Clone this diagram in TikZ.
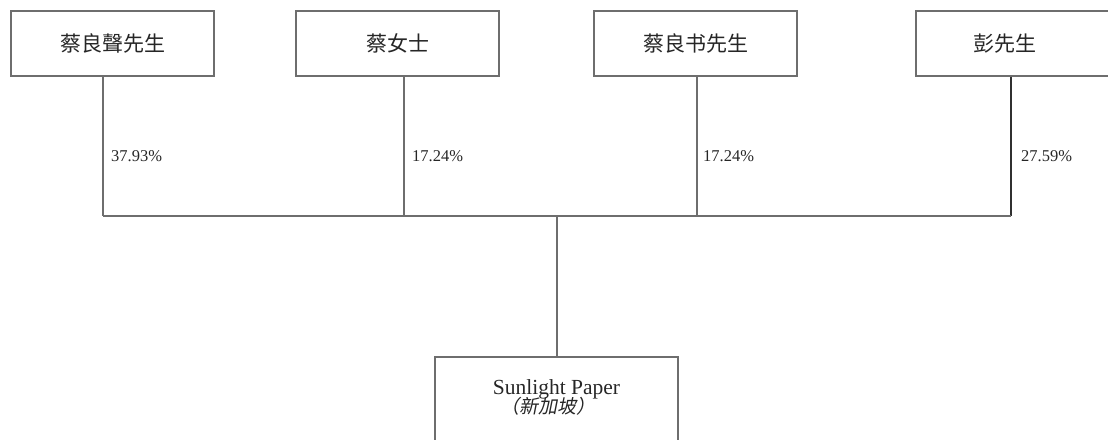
\documentclass[tikz,border=0pt]{standalone}
\usepackage{fontspec}
\setmainfont{Liberation Serif}
\newfontfamily\cjk{Noto Sans CJK SC}
\newfontfamily\cjkit[FakeSlant=0.2]{Noto Sans CJK SC}
\definecolor{linegray}{HTML}{6E6E6E}
\definecolor{darkline}{HTML}{303030}
\begin{document}
\begin{tikzpicture}[x=1pt,y=-1pt,
  holder/.style={draw=linegray,line width=1.3pt,fill=white,inner sep=0pt,
    minimum width=203pt,minimum height=65pt,font=\cjk\fontsize{21}{24}\selectfont,text=black!85},
  pct/.style={anchor=base west,inner sep=0pt,font=\fontsize{16.5}{18}\selectfont,text=black!85},
  conn/.style={linegray,line width=1.3pt}]
\useasboundingbox (0,0) rectangle (1108,439);
% owners
\node[holder] (b1) at (112.5,43.5) {蔡良聲先生};
\node[holder] (b2) at (397.5,43.5) {蔡女士};
\node[holder] (b3) at (695.5,43.5) {蔡良书先生};
\node[holder,label={[xshift=-12.5pt,font=\cjk\fontsize{21}{24}\selectfont,text=black!85]center:彭先生}] (b4) at (1017.5,43.5) {};
% company
\node[draw=linegray,line width=1.3pt,inner sep=0pt,minimum width=243pt,minimum height=120pt,
  label={[anchor=base,yshift=-38pt,inner sep=0pt,font=\fontsize{21.5}{24}\selectfont,text=black!85]north:Sunlight Paper},
  label={[anchor=center,xshift=-8.5pt,yshift=-50pt,inner sep=0pt,font=\cjkit\fontsize{19}{22}\selectfont,text=black!85]north:（新加坡）}]
  (b5) at (556.5,417) {};
% junctions
\coordinate (j1) at (103,216);
\coordinate (j2) at (404,216);
\coordinate (j3) at (697,216);
\coordinate (j4) at (1011,216);
\coordinate (jc) at (557,216);
\draw[conn] (b1.south -| j1) -- (j1);
\draw[conn] (b2.south -| j2) -- (j2);
\draw[conn] (b3.south -| j3) -- (j3);
\draw[conn,darkline] (b4.south -| j4) -- (j4);
\draw[conn] (j1) -- (j4);
\draw[conn] (jc) -- (b5.north -| jc);
% percentages
\node[pct] (p1) at (111,161) {37.93\%};
\node[pct] (p2) at (412,161) {17.24\%};
\node[pct] (p3) at (703,161) {17.24\%};
\node[pct] (p4) at (1021,161) {27.59\%};
\end{tikzpicture}
\end{document}
